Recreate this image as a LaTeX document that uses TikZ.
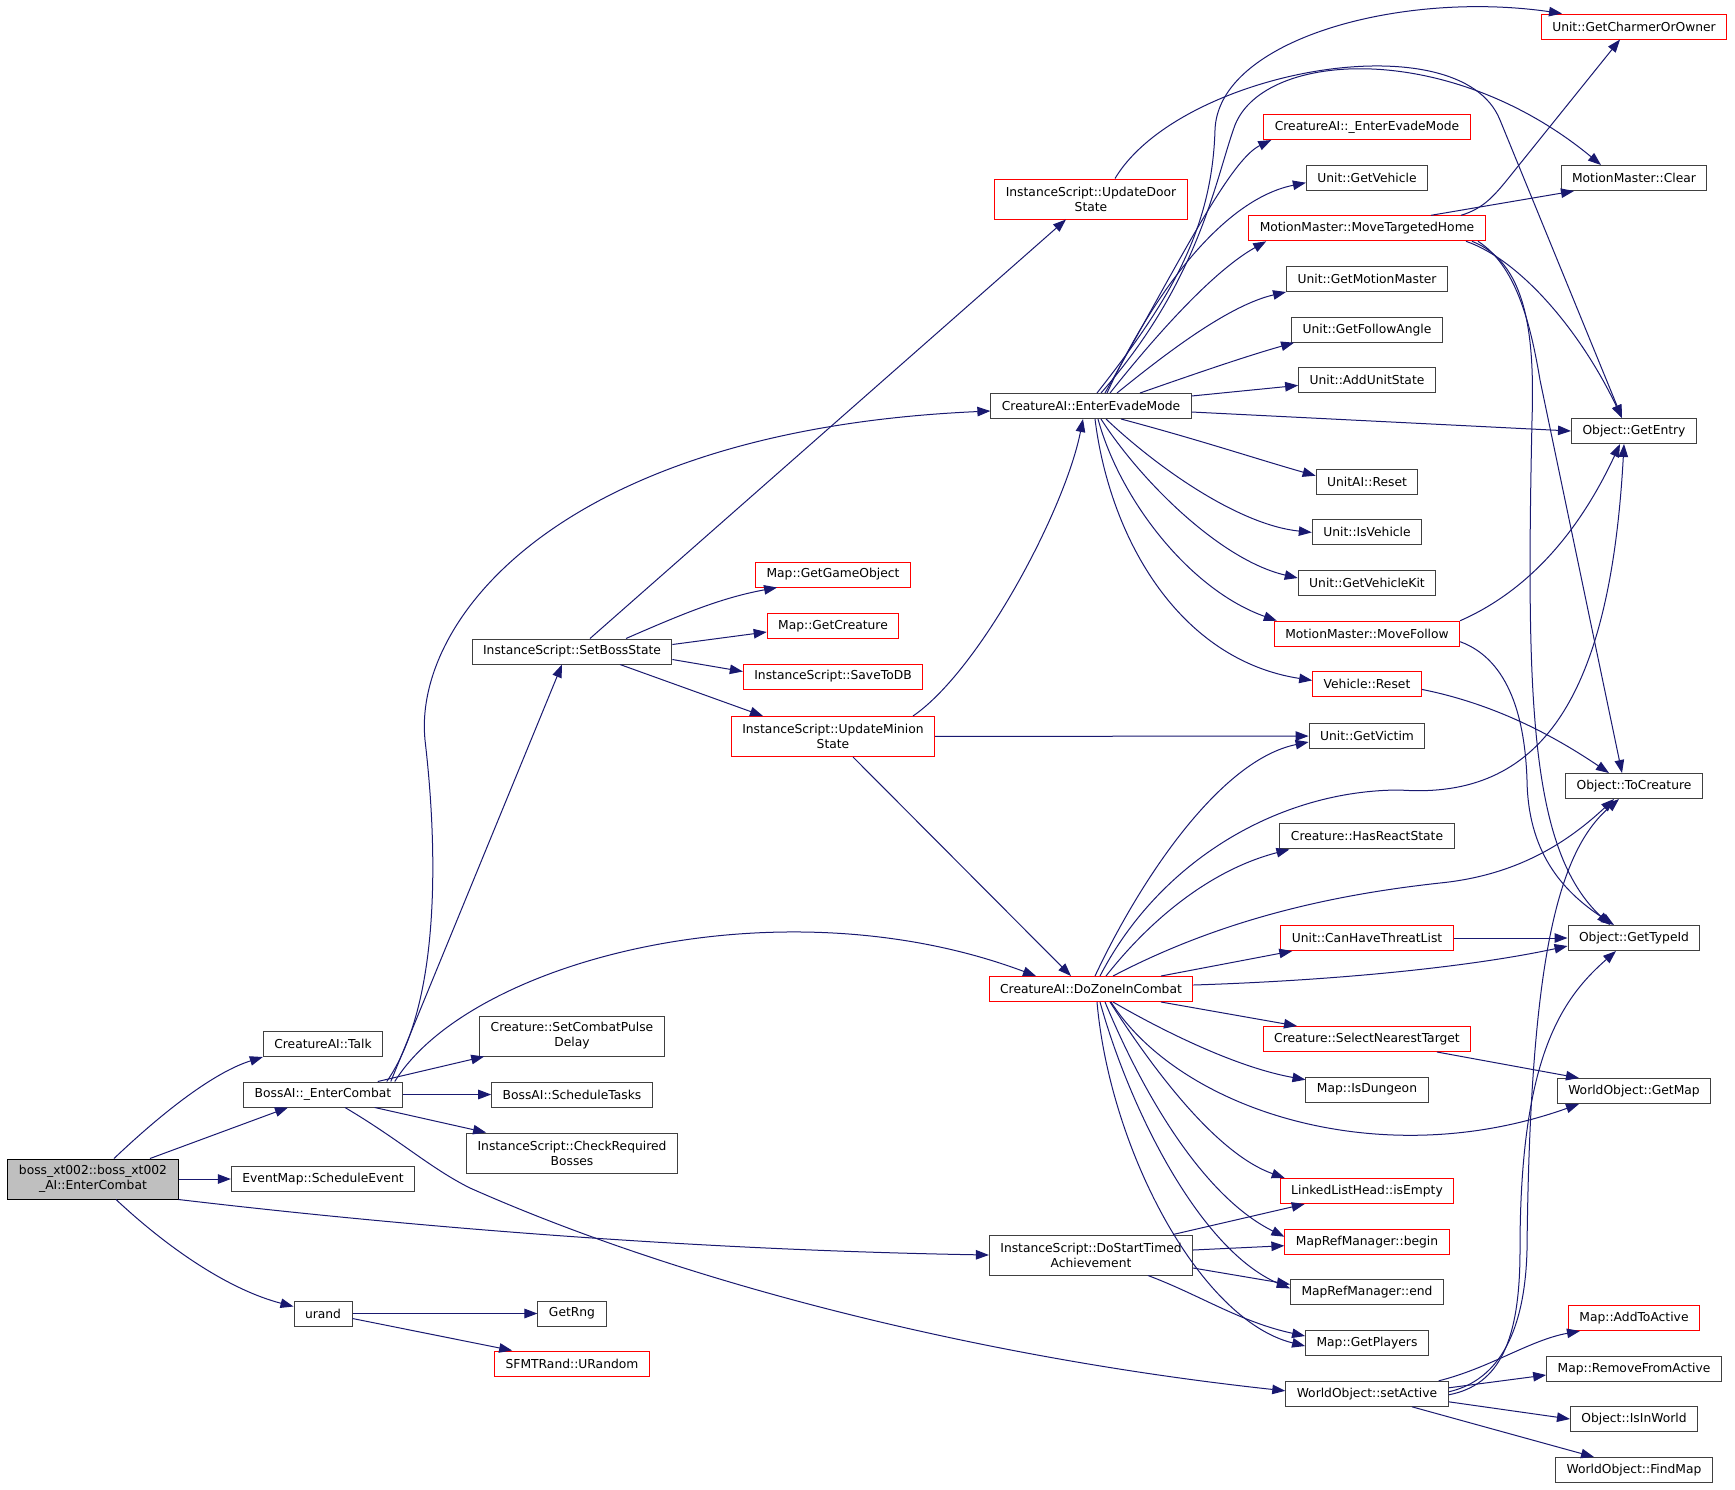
\documentclass[tikz,border=0pt]{standalone}
\usepackage{fontspec}
\setmainfont{DejaVu Sans}
\usetikzlibrary{arrows.meta}

\definecolor{edgeblue}{RGB}{25,25,112}
\definecolor{rootgrey}{RGB}{191,191,191}
\definecolor{boxgrey}{RGB}{64,64,64}

\tikzset{
  fn/.style={draw=boxgrey, fill=white, line width=1pt, inner xsep=11pt, inner ysep=0pt,
    minimum height=25pt, align=center, font=\fontsize{12.3}{15}\selectfont},
  fnred/.style={fn, draw=red},
  fnroot/.style={fn, draw=black, fill=rootgrey},
  twoline/.style={minimum height=40pt},
  call/.style={draw=edgeblue, line width=1pt, -{Triangle[length=13pt,width=9.5pt]}},
}

\begin{document}
\begin{tikzpicture}[x=1pt,y=-1pt]
	\useasboundingbox (0,0) rectangle (1735,1489);
	\fill[white] (0,0) rectangle (1735,1489);

	% Caller
	\node[fnroot, twoline] (boss) at (93,1179) {boss\_xt002::boss\_xt002\\\_AI::EnterCombat};

	% First column
	\node[fn] (talk) at (323,1044) {CreatureAI::Talk};
	\node[fn] (bossec) at (323,1094.5) {BossAI::\_EnterCombat};
	\node[fn] (sched) at (323,1179) {EventMap::ScheduleEvent};
	\node[fn] (urand) at (323,1313.5) {urand};

	% Second column
	\node[fn] (setboss) at (572,651.5) {InstanceScript::SetBossState};
	\node[fn, twoline] (pulse) at (572,1036) {Creature::SetCombatPulse\\Delay};
	\node[fn] (tasks) at (572,1094.5) {BossAI::ScheduleTasks};
	\node[fn, twoline] (chkreq) at (572,1153) {InstanceScript::CheckRequired\\Bosses};
	\node[fn] (getrng) at (572,1313.5) {GetRng};
	\node[fnred] (urandom) at (572,1363.5) {SFMTRand::URandom};

	% Called by SetBossState
	\node[fnred] (mgobj) at (833,574.5) {Map::GetGameObject};
	\node[fnred] (mcre) at (833,626) {Map::GetCreature};
	\node[fnred] (savedb) at (833,676.5) {InstanceScript::SaveToDB};
	\node[fnred, twoline] (minion) at (833,736.5) {InstanceScript::UpdateMinion\\State};

	% Third column
	\node[fnred, twoline] (door) at (1091,199) {InstanceScript::UpdateDoor\\State};
	\node[fn] (evade) at (1091,406) {CreatureAI::EnterEvadeMode};
	\node[fnred] (zone) at (1091,989) {CreatureAI::DoZoneInCombat};
	\node[fn, twoline] (timed) at (1091,1255) {InstanceScript::DoStartTimed\\Achievement};

	% Fourth column
	\node[fnred] (ievade) at (1367,127) {CreatureAI::\_EnterEvadeMode};
	\node[fn] (getveh) at (1367,177.7) {Unit::GetVehicle};
	\node[fnred] (movehome) at (1367,228.3) {MotionMaster::MoveTargetedHome};
	\node[fn] (getmm) at (1367,279) {Unit::GetMotionMaster};
	\node[fn] (follang) at (1367,329.7) {Unit::GetFollowAngle};
	\node[fn] (addus) at (1367,380.4) {Unit::AddUnitState};
	\node[fn] (uaireset) at (1367,481.7) {UnitAI::Reset};
	\node[fn] (isveh) at (1367,532.4) {Unit::IsVehicle};
	\node[fn] (vehkit) at (1367,583) {Unit::GetVehicleKit};
	\node[fnred] (movefol) at (1367,633.7) {MotionMaster::MoveFollow};
	\node[fnred] (vreset) at (1367,684.4) {Vehicle::Reset};
	\node[fn] (victim) at (1367,736) {Unit::GetVictim};
	\node[fn] (hasreact) at (1367,836.4) {Creature::HasReactState};
	\node[fnred] (canthreat) at (1367,938) {Unit::CanHaveThreatList};
	\node[fnred] (selnear) at (1367,1039) {Creature::SelectNearestTarget};
	\node[fn] (isdung) at (1367,1089.7) {Map::IsDungeon};
	\node[fnred] (isempty) at (1367,1191) {LinkedListHead::isEmpty};
	\node[fnred] (mbegin) at (1367,1241.7) {MapRefManager::begin};
	\node[fn] (mend) at (1367,1292.4) {MapRefManager::end};
	\node[fn] (getpl) at (1367,1343) {Map::GetPlayers};
	\node[fn] (setact) at (1367,1393.8) {WorldObject::setActive};

	% Last column
	\node[fnred] (charmer) at (1634,26.5) {Unit::GetCharmerOrOwner};
	\node[fn] (mmclear) at (1634,178) {MotionMaster::Clear};
	\node[fn] (getentry) at (1634,431) {Object::GetEntry};
	\node[fn] (tocreat) at (1634,786) {Object::ToCreature};
	\node[fn] (typeid) at (1634,938) {Object::GetTypeId};
	\node[fn] (getmap) at (1634,1091) {WorldObject::GetMap};
	\node[fnred] (addact) at (1634,1318) {Map::AddToActive};
	\node[fn] (remact) at (1634,1369) {Map::RemoveFromActive};
	\node[fn] (inworld) at (1634,1419) {Object::IsInWorld};
	\node[fn] (findmap) at (1634,1470) {WorldObject::FindMap};

	% Calls from the caller
	\draw[call] ([xshift=21]boss.north) .. controls (165,1110) and (215,1072) .. (talk.south west);
	\draw[call] ([xshift=57]boss.north) -- ([xshift=-35]bossec.south);
	\draw[call] (boss) -- (sched);
	\draw[call] (boss.south east) .. controls (420,1228) and (700,1250) .. (timed.west);
	\draw[call] ([xshift=23]boss.south) .. controls (170,1250) and (230,1290) .. ([yshift=7]urand.west);

	% BossAI::_EnterCombat
	\draw[call] ([xshift=-12]bossec.north east) -- ([xshift=-10]setboss.south);
	\draw[call] ([xshift=-16]bossec.north east) .. controls (450,990) and (432,800) .. (425,740)
		.. controls (413,620) and (560,430) .. ([yshift=-5]evade.west);
	\draw[call] ([xshift=-8]bossec.north east) .. controls (470,960) and (780,880) .. ([xshift=-55]zone.north);
	\draw[call] ([xshift=-25]bossec.north east) -- ([xshift=5]pulse.south west);
	\draw[call] (bossec) -- (tasks);
	\draw[call] ([xshift=-28]bossec.south east) -- ([xshift=20]chkreq.north west);
	\draw[call] ([xshift=22]bossec.south) .. controls (400,1140) and (430,1168) .. (470,1188)
		.. controls (700,1290) and (1000,1360) .. ([yshift=3]setact.west);

	% urand
	\draw[call] (urand) -- (getrng);
	\draw[call] ([yshift=-5]urand.east) -- ([xshift=18]urandom.north west);

	% InstanceScript::SetBossState
	\draw[call] ([xshift=18]setboss.north) -- ([xshift=-25]door.south);
	\draw[call] ([xshift=54]setboss.north) .. controls (680,615) and (720,598) .. ([xshift=22]mgobj.south west);
	\draw[call] ([yshift=7]setboss.east) -- ([yshift=-6]mcre.west);
	\draw[call] ([yshift=-8]setboss.east) -- ([yshift=5]savedb.west);
	\draw[call] ([xshift=48]setboss.south) -- ([xshift=-70]minion.north);

	% InstanceScript::UpdateMinionState
	\draw[call] ([xshift=80]minion.north) .. controls (980,670) and (1065,510) .. ([xshift=-8]evade.south);
	\draw[call] (minion) -- (victim);
	\draw[call] ([xshift=20]minion.south) -- ([xshift=-20]zone.north);

	% InstanceScript::UpdateDoorState
	\draw[call] ([xshift=24]door.north) .. controls (1180,70) and (1460,20) .. (1500,120) -- ([xshift=-12]getentry.north);

	% CreatureAI::EnterEvadeMode
	\draw[call] ([xshift=6]evade.north) .. controls (1170,300) and (1212,230) .. (1215,130)
		.. controls (1218,40) and (1400,-10) .. ([xshift=-72]charmer.north);
	\draw[call] ([xshift=10]evade.north) .. controls (1200,280) and (1215,180) .. (1235,125)
		.. controls (1265,50) and (1450,40) .. ([xshift=-33]mmclear.north);
	\draw[call] ([xshift=14]evade.north) .. controls (1180,260) and (1230,160) .. ([xshift=8]ievade.south west);
	\draw[call] ([xshift=16]evade.north) .. controls (1150,300) and (1220,200) .. ([yshift=-5]getveh.west);
	\draw[call] ([xshift=19]evade.north) .. controls (1160,330) and (1215,270) .. ([xshift=18]movehome.south west);
	\draw[call] ([xshift=26]evade.north) .. controls (1170,350) and (1230,305) .. (getmm.south west);
	\draw[call] ([xshift=49]evade.north) .. controls (1200,372) and (1250,355) .. ([xshift=3]follang.south west);
	\draw[call] ([yshift=10]evade.east) -- ([yshift=-5]addus.west);
	\draw[call] ([yshift=-6]evade.east) -- (getentry.west);
	\draw[call] ([xshift=30]evade.south) .. controls (1200,440) and (1260,460) .. ([yshift=6]uaireset.west);
	\draw[call] ([xshift=15]evade.south) .. controls (1160,470) and (1240,525) .. (isveh.west);
	\draw[call] ([xshift=10]evade.south) .. controls (1140,480) and (1220,560) .. ([yshift=5]vehkit.west);
	\draw[call] ([xshift=7]evade.south) .. controls (1120,500) and (1190,590) .. ([xshift=3]movefol.north west);
	\draw[call] ([xshift=4]evade.south) .. controls (1110,540) and (1180,660) .. ([yshift=4]vreset.west);

	% MotionMaster::MoveTargetedHome
	\draw[call] ([xshift=94]movehome.north) .. controls (1485,208) and (1495,195) .. (1515,170) -- ([xshift=-14]charmer.south);
	\draw[call] ([xshift=64]movehome.north) -- ([xshift=-60]mmclear.south);
	\draw[call] ([xshift=99]movehome.south) .. controls (1520,260) and (1580,330) .. ([xshift=-12]getentry.north);
	\draw[call] ([xshift=111]movehome.south) .. controls (1515,265) and (1530,320) .. (1540,380) -- ([xshift=-12]tocreat.north);
	\draw[call] ([xshift=105]movehome.south) .. controls (1525,262) and (1535,330) .. (1532,420)
		.. controls (1526,700) and (1530,850) .. ([xshift=-24]typeid.north);

	% MotionMaster::MoveFollow and Vehicle::Reset
	\draw[call] (movefol.north east) .. controls (1530,590) and (1580,530) .. ([xshift=-14]getentry.south);
	\draw[call] ([yshift=-8]movefol.east) .. controls (1510,660) and (1525,720) .. (1527,780)
		.. controls (1528,850) and (1560,890) .. ([xshift=-20]typeid.north);
	\draw[call] ([yshift=-5]vreset.east) .. controls (1500,705) and (1560,740) .. ([xshift=-25]tocreat.north);

	% CreatureAI::DoZoneInCombat
	\draw[call] ([xshift=4]zone.north) .. controls (1140,880) and (1220,760) .. ([yshift=-6]victim.west);
	\draw[call] ([xshift=9]zone.north) .. controls (1160,860) and (1280,790) .. (1400,790)
		.. controls (1540,800) and (1610,700) .. ([xshift=-10]getentry.south);
	\draw[call] ([xshift=15]zone.north) .. controls (1150,920) and (1210,870) .. ([xshift=10]hasreact.south west);
	\draw[call] ([xshift=22]zone.north) .. controls (1220,920) and (1330,895) .. (1440,883)
		.. controls (1520,875) and (1570,840) .. ([xshift=-20]tocreat.south);
	\draw[call] ([xshift=70]zone.north) -- ([xshift=12]canthreat.south west);
	\draw[call] ([yshift=4]zone.east) .. controls (1350,980) and (1480,965) .. ([yshift=-8]typeid.west);
	\draw[call] ([xshift=70]zone.south) -- ([xshift=-70]selnear.north);
	\draw[call] ([xshift=22]zone.south) .. controls (1170,1035) and (1240,1068) .. ([yshift=10]isdung.west);
	\draw[call] ([xshift=20]zone.south) .. controls (1180,1110) and (1380,1175) .. ([xshift=-55]getmap.south);
	\draw[call] ([xshift=19]zone.south) .. controls (1160,1080) and (1220,1155) .. ([xshift=5]isempty.north west);
	\draw[call] ([xshift=14]zone.south) .. controls (1150,1110) and (1210,1200) .. ([yshift=5]mbegin.west);
	\draw[call] ([xshift=9]zone.south) .. controls (1130,1110) and (1200,1250) .. ([yshift=4]mend.west);
	\draw[call] ([xshift=6]zone.south) .. controls (1110,1150) and (1200,1320) .. ([yshift=-3]getpl.west);

	% InstanceScript::DoStartTimedAchievement
	\draw[call] ([xshift=82]timed.north) -- ([xshift=25]isempty.south west);
	\draw[call] ([yshift=5]timed.east) -- ([yshift=-4]mbegin.west);
	\draw[call] ([yshift=-13]timed.east) -- ([yshift=8]mend.west);
	\draw[call] ([xshift=57]timed.south) .. controls (1200,1295) and (1240,1322) .. ([yshift=7]getpl.west);

	% Remaining calls
	\draw[call] (canthreat) -- (typeid);
	\draw[call] ([xshift=70]selnear.south) -- ([xshift=-55]getmap.north);

	% WorldObject::setActive
	\draw[call] ([xshift=-10]setact.north east) .. controls (1490,1368) and (1530,1340) .. ([xshift=12]addact.south west);
	\draw[call] ([yshift=6]setact.east) -- ([yshift=-6]remact.west);
	\draw[call] ([yshift=-8]setact.east) -- (inworld.west);
	\draw[call] ([xshift=45]setact.south) -- ([xshift=-40]findmap.north);
	\draw[call] ([yshift=2]setact.east) .. controls (1500,1380) and (1525,1330) .. (1527,1250)
		.. controls (1530,950) and (1560,850) .. ([xshift=-15]tocreat.south);
	\draw[call] ([yshift=-1]setact.east) .. controls (1500,1385) and (1520,1340) .. (1520,1250)
		.. controls (1520,1060) and (1560,1000) .. ([xshift=-18]typeid.south);

\end{tikzpicture}
\end{document}
